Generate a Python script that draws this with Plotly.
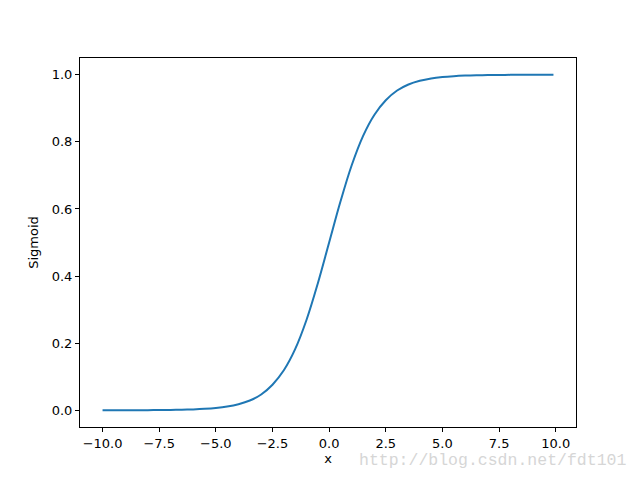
import plotly.graph_objects as go

x_vals = [-10.0, -9.5, -9.0, -8.5, -8.0, -7.5, -7.0, -6.5, -6.0, -5.5, -5.0, -4.5, -4.0,
          -3.5, -3.0, -2.5, -2.0, -1.5, -1.0, -0.5, 0.0, 0.5, 1.0, 1.5, 2.0, 2.5, 3.0,
          3.5, 4.0, 4.5, 5.0, 5.5, 6.0, 6.5, 7.0, 7.5, 8.0, 8.5, 9.0, 9.5, 9.9]
y_vals = [0.0000, 0.0001, 0.0001, 0.0002, 0.0003, 0.0006, 0.0009, 0.0015, 0.0025, 0.0041,
          0.0067, 0.011, 0.018, 0.029, 0.047, 0.076, 0.119, 0.182, 0.269, 0.378, 0.500,
          0.622, 0.731, 0.818, 0.881, 0.924, 0.953, 0.971, 0.982, 0.989, 0.9933, 0.9959,
          0.9975, 0.9985, 0.9991, 0.9994, 0.9997, 0.9998, 0.9999, 0.9999, 1.0000]

x_ticks = [-10.0, -7.5, -5.0, -2.5, 0.0, 2.5, 5.0, 7.5, 10.0]
y_ticks = [0.0, 0.2, 0.4, 0.6, 0.8, 1.0]

def fmt(v):
    s = f"{v:.1f}"
    return s.replace("-", "\u2212")

fig = go.Figure()
fig.add_trace(go.Scatter(x=x_vals, y=y_vals, mode="lines",
                         line=dict(color="#1f77b4", width=2, shape="spline"),
                         showlegend=False, hoverinfo="skip"))

axis_common = dict(showline=True, linecolor="black", linewidth=1, mirror=True,
                   showgrid=False, zeroline=False, ticks="outside", ticklen=4,
                   tickwidth=1, tickcolor="black",
                   tickfont=dict(family="DejaVu Sans", size=13, color="black"))

fig.update_xaxes(range=[-10.995, 10.895], tickvals=x_ticks,
                 ticktext=[fmt(v) for v in x_ticks],
                 title=dict(text="x", standoff=4,
                            font=dict(family="DejaVu Sans", size=13, color="black")),
                 **axis_common)
fig.update_yaxes(range=[-0.05, 1.05], tickvals=y_ticks,
                 ticktext=[fmt(v) for v in y_ticks],
                 title=dict(text="Sigmoid", standoff=10,
                            font=dict(family="DejaVu Sans", size=13, color="black")),
                 **axis_common)

fig.add_annotation(text="http://blog.csdn.net/fdt101", xref="paper", yref="paper",
                   x=1.105, y=-0.092, xanchor="right", yanchor="middle", showarrow=False,
                   font=dict(family="Liberation Mono", size=16.5, color="#d6d6d6"))

fig.update_layout(width=632, height=472, plot_bgcolor="white", paper_bgcolor="white",
                  margin=dict(l=72, r=64, t=50, b=53))

fig.write_html("out.html")
